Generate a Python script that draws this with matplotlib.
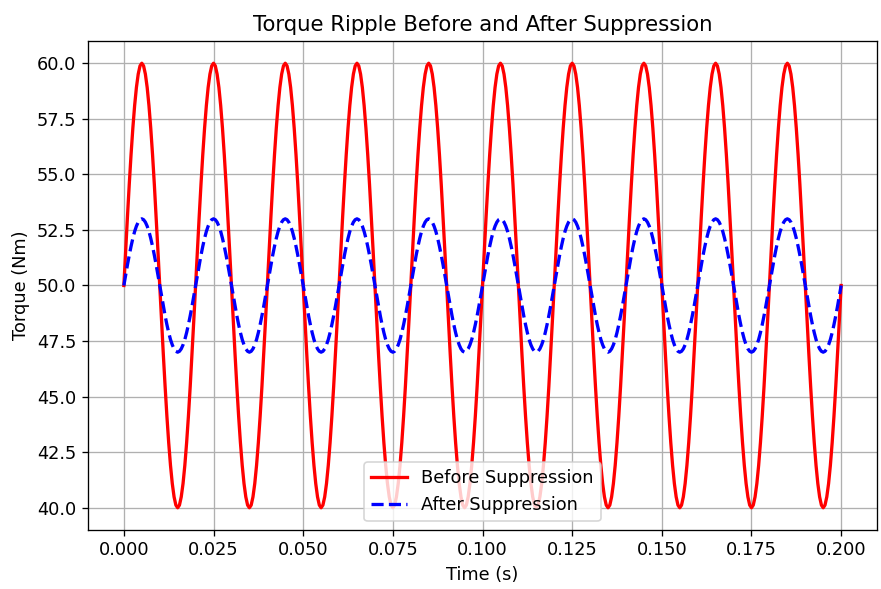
import numpy as np
import matplotlib
matplotlib.use("Agg")
import matplotlib.pyplot as plt

# one 0.02 s ripple cycle (0.5 ms steps); all 10 cycles look identical
before_cycle = [50, 51.56, 53.09, 54.54, 55.88, 57.07, 58.09, 58.91, 59.51, 59.88,
                60, 59.88, 59.51, 58.91, 58.09, 57.07, 55.88, 54.54, 53.09, 51.56,
                50, 48.44, 46.91, 45.46, 44.12, 42.93, 41.91, 41.09, 40.49, 40.12,
                40, 40.12, 40.49, 41.09, 41.91, 42.93, 44.12, 45.46, 46.91, 48.44]
after_cycle = [50, 50.47, 50.93, 51.36, 51.76, 52.12, 52.43, 52.67, 52.85, 52.96,
               53, 52.96, 52.85, 52.67, 52.43, 52.12, 51.76, 51.36, 50.93, 50.47,
               50, 49.53, 49.07, 48.64, 48.24, 47.88, 47.57, 47.33, 47.15, 47.04,
               47, 47.04, 47.15, 47.33, 47.57, 47.88, 48.24, 48.64, 49.07, 49.53]
n_cycles = 10
end_value = 50

before = list(before_cycle) * n_cycles + [end_value]
after = list(after_cycle) * n_cycles + [end_value]
t = np.linspace(0, 0.2, len(before))

dpi = 118
W, H = 881, 589
plt.rcParams["font.size"] = 10.8
plt.rcParams["axes.titlesize"] = 13

fig = plt.figure(figsize=(W / dpi, H / dpi), dpi=dpi)
ax = fig.add_axes([88 / W, (H - 530) / H, 789 / W, 489 / H])

ax.plot(t, before, color="r", linewidth=2, label="Before Suppression")
ax.plot(t, after, color="b", linestyle="--", linewidth=2, label="After Suppression")

ax.set_title("Torque Ripple Before and After Suppression")
ax.set_xlabel("Time (s)")
ax.set_ylabel("Torque (Nm)")
ax.grid(True)
ax.legend(loc="lower center")

fig.savefig("out.png", dpi=dpi)
